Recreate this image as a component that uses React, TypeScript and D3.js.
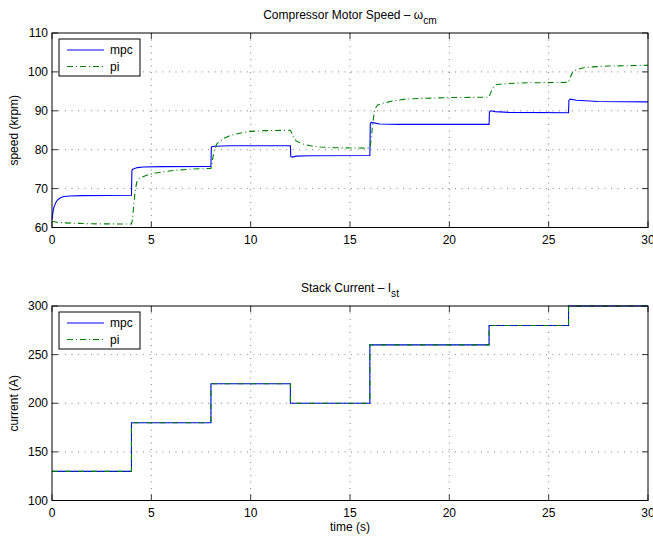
import React from "react";
import * as d3 from "d3";

// ---------- DATA ----------
const timeDomain = [0, 30];
const xTicks = [0, 5, 10, 15, 20, 25, 30];
const speedTicks = [60, 70, 80, 90, 100, 110];
const currentTicks = [100, 150, 200, 250, 300];

// Compressor motor speed (krpm) – mpc
const mpcSpeedT = [0, 0.05, 0.1, 0.2, 0.3, 0.45, 0.6, 0.9, 1.5, 4.0, 4.02, 4.06, 4.12, 4.3, 4.6, 5.5, 8.0, 8.02, 8.06, 8.2, 9.0, 12.0, 12.02, 12.08, 12.3, 13.0, 16.0, 16.02, 16.06, 16.2, 16.5, 17.5, 22.0, 22.02, 22.08, 22.3, 23.0, 26.0, 26.02, 26.1, 26.4, 27.5, 30.0];
const mpcSpeedV = [62.0, 64.0, 65.3, 66.5, 67.2, 67.7, 67.95, 68.1, 68.2, 68.3, 74.6, 75.0, 75.1, 75.4, 75.55, 75.65, 75.7, 80.6, 80.8, 80.9, 81.0, 81.0, 78.2, 78.1, 78.35, 78.45, 78.5, 86.6, 87.0, 86.9, 86.6, 86.5, 86.5, 89.7, 90.0, 89.8, 89.6, 89.5, 92.7, 93.0, 92.7, 92.4, 92.3];

// Compressor motor speed (krpm) – pi
const piSpeedT = [0, 0.3, 1, 2, 4, 4.05, 4.12, 4.2, 4.3, 4.5, 4.8, 5.2, 5.7, 6.3, 7, 8, 8.05, 8.15, 8.3, 8.6, 9.0, 9.5, 10, 10.7, 12, 12.05, 12.15, 12.3, 12.6, 13, 13.5, 14.2, 16, 16.05, 16.15, 16.25, 16.4, 16.7, 17.2, 17.8, 18.6, 20, 22, 22.05, 22.2, 22.35, 22.7, 23.3, 24, 26, 26.05, 26.2, 26.4, 26.7, 27.2, 28, 30];
const piSpeedV = [61.6, 61.3, 61.1, 60.95, 60.9, 62, 66, 70, 72.3, 72.9, 73.5, 74.0, 74.4, 74.75, 75.0, 75.2, 76.5, 79.5, 81.5, 82.8, 83.7, 84.3, 84.7, 84.9, 85.0, 84.5, 83.2, 82.2, 81.5, 81.0, 80.7, 80.5, 80.4, 82, 87, 90.5, 91.5, 92.0, 92.6, 93.0, 93.2, 93.4, 93.5, 94.3, 96.0, 96.7, 96.95, 97.1, 97.2, 97.3, 98.2, 99.8, 100.6, 101.0, 101.3, 101.5, 101.7];

// Stack current (A) – identical for mpc and pi
const currentT = [0, 4, 4, 8, 8, 12, 12, 16, 16, 22, 22, 26, 26, 30];
const mpcCurrentV = [130, 130, 180, 180, 220, 220, 200, 200, 260, 260, 280, 280, 300, 300];
const piCurrentV = [130, 130, 180, 180, 220, 220, 200, 200, 260, 260, 280, 280, 300, 300];

const seriesNames = ["mpc", "pi"];

// ---------- LAYOUT ----------
const W = 653;
const H = 539;
const left = 52;
const right = 648;
const FONT = "'Liberation Sans', Arial, Helvetica, sans-serif";
const FS = 12;
const BLUE = "#0000ff";
const GREEN = "#008000";
const PI_DASH = "6,3,1,3";

type Panel = {
  top: number;
  bottom: number;
  yDomain: [number, number];
  yTicks: number[];
  title: string;
  sub: string;
  ylabel: string;
  mpc: [number[], number[]];
  pi: [number[], number[]];
  xlabel?: string;
};

function PanelView({ p }: { p: Panel }) {
  const x = d3.scaleLinear().domain(timeDomain).range([left, right]);
  const y = d3.scaleLinear().domain(p.yDomain).range([p.bottom, p.top]);
  const line = (ts: number[], vs: number[]) =>
    d3.line<number>().x((_, i) => x(ts[i])).y((v) => y(v))(vs) || "";
  const tickLen = 6;
  const cx = (left + right) / 2;
  const lx = left + 7;
  const ly = p.top + 6;
  return (
    <g>
      {/* grid */}
      {xTicks.slice(1, -1).map((t) => (
        <line key={"gx" + t} x1={x(t)} x2={x(t)} y1={p.top} y2={p.bottom} stroke="#000" strokeWidth={0.7} strokeDasharray="1,5.5" opacity={0.7} />
      ))}
      {p.yTicks.slice(1, -1).map((t) => (
        <line key={"gy" + t} x1={left} x2={right} y1={y(t)} y2={y(t)} stroke="#000" strokeWidth={0.7} strokeDasharray="1,5.5" opacity={0.7} />
      ))}
      {/* ticks */}
      {xTicks.map((t) => (
        <g key={"tx" + t}>
          <line x1={x(t)} x2={x(t)} y1={p.bottom} y2={p.bottom - tickLen} stroke="#000" strokeWidth={0.8} />
          <line x1={x(t)} x2={x(t)} y1={p.top} y2={p.top + tickLen} stroke="#000" strokeWidth={0.8} />
          <text x={x(t)} y={p.bottom + 16} textAnchor="middle" fontSize={FS} fontFamily={FONT}>{t}</text>
        </g>
      ))}
      {p.yTicks.map((t) => (
        <g key={"ty" + t}>
          <line x1={left} x2={left + tickLen} y1={y(t)} y2={y(t)} stroke="#000" strokeWidth={0.8} />
          <line x1={right} x2={right - tickLen} y1={y(t)} y2={y(t)} stroke="#000" strokeWidth={0.8} />
          <text x={left - 4} y={y(t) + 4} textAnchor="end" fontSize={FS} fontFamily={FONT}>{t}</text>
        </g>
      ))}
      {/* data */}
      <path d={line(p.mpc[0], p.mpc[1])} fill="none" stroke={BLUE} strokeWidth={1.1} />
      <path d={line(p.pi[0], p.pi[1])} fill="none" stroke={GREEN} strokeWidth={1.1} strokeDasharray={PI_DASH} />
      {/* box */}
      <rect x={left} y={p.top} width={right - left} height={p.bottom - p.top} fill="none" stroke="#000" strokeWidth={1} />
      {/* title */}
      <text x={cx} y={p.top - 14} textAnchor="middle" fontSize={FS} fontFamily={FONT}>
        {p.title}
        <tspan fontSize={FS * 0.85} dy={5}>{p.sub}</tspan>
      </text>
      {/* y label */}
      <text transform={`translate(${15},${(p.top + p.bottom) / 2}) rotate(-90)`} textAnchor="middle" dominantBaseline="middle" fontSize={FS} fontFamily={FONT}>{p.ylabel}</text>
      {p.xlabel && (
        <text x={cx} y={p.bottom + 30} textAnchor="middle" fontSize={FS} fontFamily={FONT}>{p.xlabel}</text>
      )}
      {/* legend */}
      <rect x={lx} y={ly} width={81} height={37} fill="#fff" stroke="#000" strokeWidth={1} />
      {seriesNames.map((name, i) => {
        const yy = ly + 11 + i * 16.5;
        return (
          <g key={name}>
            <line x1={lx + 8} x2={lx + 45} y1={yy} y2={yy} stroke={i === 0 ? BLUE : GREEN} strokeWidth={1.1} strokeDasharray={i === 0 ? undefined : PI_DASH} />
            <text x={lx + 51} y={yy + 4} fontSize={FS} fontFamily={FONT}>{name}</text>
          </g>
        );
      })}
    </g>
  );
}

export default function App() {
  const panels: Panel[] = [
    {
      top: 33,
      bottom: 227.5,
      yDomain: [60, 110],
      yTicks: speedTicks,
      title: "Compressor Motor Speed \u2013 \u03c9",
      sub: "cm",
      ylabel: "speed (krpm)",
      mpc: [mpcSpeedT, mpcSpeedV],
      pi: [piSpeedT, piSpeedV],
    },
    {
      top: 306,
      bottom: 500.5,
      yDomain: [100, 300],
      yTicks: currentTicks,
      title: "Stack Current \u2013 I",
      sub: "st",
      ylabel: "current (A)",
      mpc: [currentT, mpcCurrentV],
      pi: [currentT, piCurrentV],
      xlabel: "time (s)",
    },
  ];
  return (
    <svg width={W} height={H} style={{ position: "absolute", left: 0, top: 0, background: "#fff" }}>
      <rect width={W} height={H} fill="#fff" />
      {panels.map((p, i) => (
        <PanelView key={i} p={p} />
      ))}
    </svg>
  );
}
